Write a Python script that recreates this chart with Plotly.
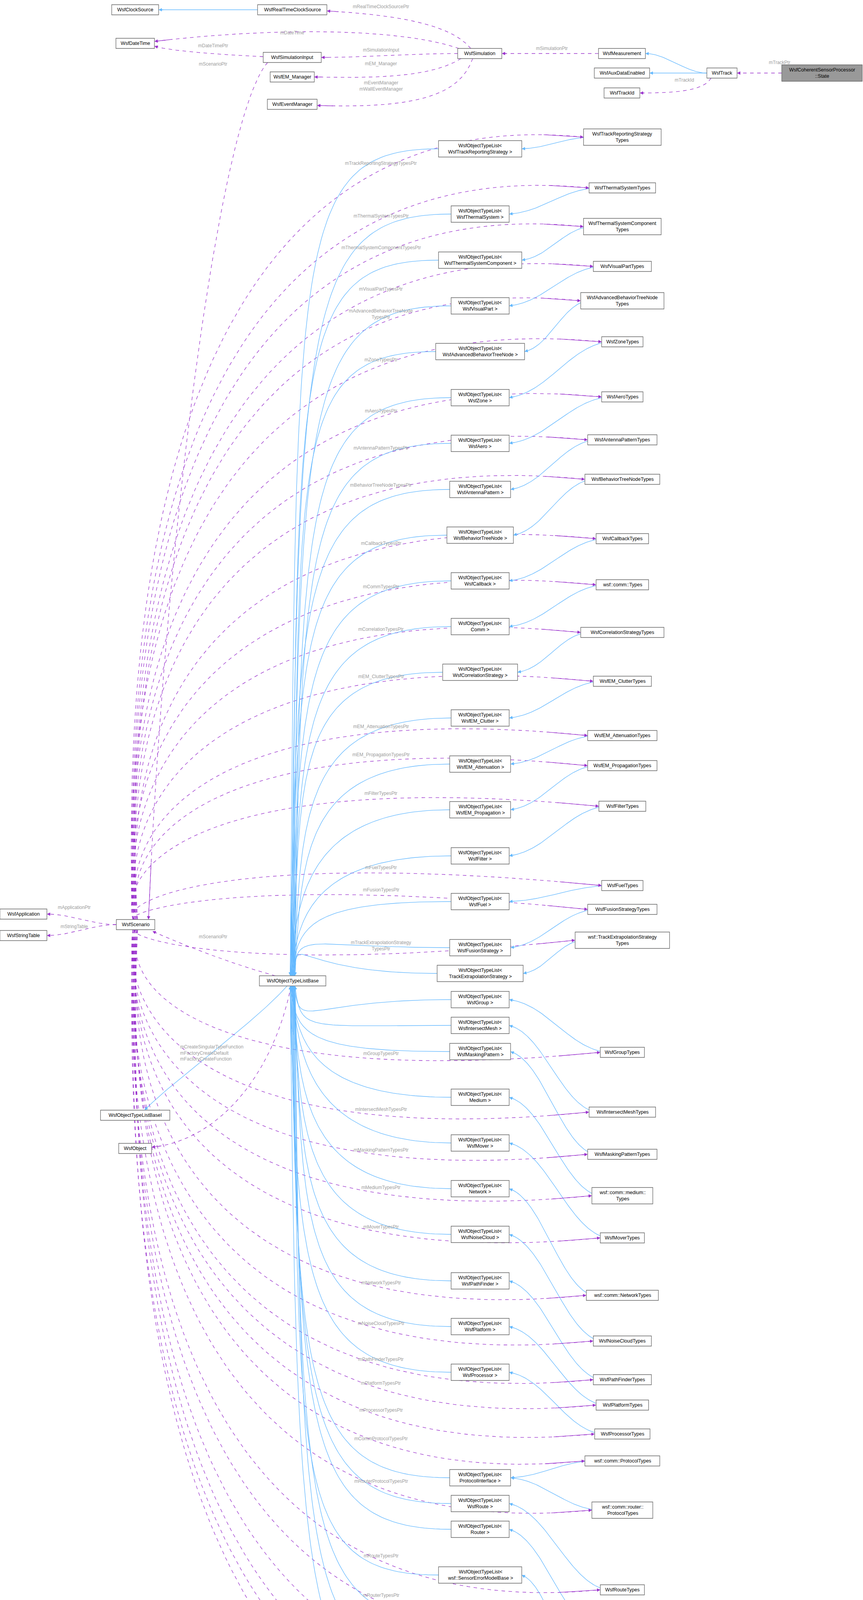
import plotly.graph_objects as go
import numpy as np

W, H = 2209, 4673
PURPLE = "#9a32cd"
BLUE = "#63b8ff"
LABEL = "#9c9c9c"

# ---------------- data ----------------
TYPE_NAMES = ["WsfTrackReportingStrategy\nTypes", "WsfThermalSystemTypes", "WsfThermalSystemComponent\nTypes",
              "WsfVisualPartTypes", "WsfAdvancedBehaviorTreeNode\nTypes", "WsfZoneTypes", "WsfAeroTypes",
              "WsfAntennaPatternTypes", "WsfBehaviorTreeNodeTypes", "WsfCallbackTypes", "wsf::comm::Types",
              "WsfCorrelationStrategyTypes", "WsfEM_ClutterTypes", "WsfEM_AttenuationTypes", "WsfEM_PropagationTypes",
              "WsfFilterTypes", "WsfFuelTypes", "WsfFusionStrategyTypes", "wsf::TrackExtrapolationStrategy\nTypes",
              "WsfGroupTypes", "WsfIntersectMeshTypes", "WsfMaskingPatternTypes", "wsf::comm::medium::\nTypes",
              "WsfMoverTypes", "wsf::comm::NetworkTypes", "WsfNoiseCloudTypes", "WsfPathFinderTypes",
              "WsfPlatformTypes", "WsfProcessorTypes", "wsf::comm::ProtocolTypes", "wsf::comm::router::\nProtocolTypes",
              "WsfRouteTypes", "wsf::comm::router::\nTypes", "WsfSensorErrorModelTypes", "WsfSensorTypes",
              "WsfRadarSignatureTypes", "WsfRouteNetworkTypes"]
PTR_LABELS = ["mTrackReportingStrategyTypesPtr", "mThermalSystemTypesPtr", "mThermalSystemComponentTypesPtr",
              "mVisualPartTypesPtr", "mAdvancedBehaviorTreeNode\nTypesPtr", "mZoneTypesPtr", "mAeroTypesPtr",
              "mAntennaPatternTypesPtr", "mBehaviorTreeNodeTypesPtr", "mCallbackTypesPtr", "mCommTypesPtr",
              "mCorrelationTypesPtr", "mEM_ClutterTypesPtr", "mEM_AttenuationTypesPtr", "mEM_PropagationTypesPtr",
              "mFilterTypesPtr", "mFuelTypesPtr", "mFusionTypesPtr", "mTrackExtrapolationStrategy\nTypesPtr",
              "mGroupTypesPtr", "mIntersectMeshTypesPtr", "mMaskingPatternTypesPtr", "mMediumTypesPtr",
              "mMoverTypesPtr", "mNetworkTypesPtr", "mNoiseCloudTypesPtr", "mPathFinderTypesPtr",
              "mPlatformTypesPtr", "mProcessorTypesPtr", "mCommProtocolTypesPtr", "mRouterProtocolTypesPtr",
              "mRouteTypesPtr", "mRouterTypesPtr", "mSensorErrorModelTypesPtr", "mSensorTypesPtr",
              "mRadarSignatureTypesPtr", "mRouteNetworkTypesPtr"]
OTL_PARAMS = ["WsfTrackReportingStrategy", "WsfThermalSystem", "WsfThermalSystemComponent", "WsfVisualPart",
              "WsfAdvancedBehaviorTreeNode", "WsfZone", "WsfAero", "WsfAntennaPattern", "WsfBehaviorTreeNode",
              "WsfCallback", "Comm", "WsfCorrelationStrategy", "WsfEM_Clutter", "WsfEM_Attenuation",
              "WsfEM_Propagation", "WsfFilter", "WsfFuel", "WsfFusionStrategy", "TrackExtrapolationStrategy",
              "WsfGroup", "WsfIntersectMesh", "WsfMaskingPattern", "Medium", "WsfMover", "Network",
              "WsfNoiseCloud", "WsfPathFinder", "WsfPlatform", "WsfProcessor", "ProtocolInterface", "WsfRoute",
              "Router", "wsf::SensorErrorModelBase", "WsfSensor", "WsfRadarSignature", "WsfRouteNetwork"]
TYPE_TO_OTL = [0, 1, 2, 3, 4, 5, 6, 7, 8, 9, 10, 11, 12, 13, 14, 15, 16, 17, 18, 19, 20, 21, 22, 23, 24,
               25, 26, 27, 28, 29, 29, 30, 31, 32, 33, 34, 35]

NODE_TEXT = {"Coherent": "WsfCoherentSensorProcessor\n::State", "Track": "WsfTrack",
             "Measurement": "WsfMeasurement", "AuxData": "WsfAuxDataEnabled", "TrackId": "WsfTrackId",
             "Simulation": "WsfSimulation", "RTClock": "WsfRealTimeClockSource", "Clock": "WsfClockSource",
             "DateTime": "WsfDateTime", "SimInput": "WsfSimulationInput", "EM": "WsfEM_Manager",
             "Event": "WsfEventManager", "Scenario": "WsfScenario", "App": "WsfApplication",
             "Strings": "WsfStringTable", "Base": "WsfObjectTypeListBase", "BaseI": "WsfObjectTypeListBaseI",
             "Object": "WsfObject"}

# ---------------- layout (positions) ----------------
POS = {"Coherent": (2104, 187), "Track": (1848, 187), "Measurement": (1592, 137), "AuxData": (1592, 187),
       "TrackId": (1592, 238), "Simulation": (1228, 137), "RTClock": (748, 25), "Clock": (346, 25),
       "DateTime": (346, 111), "SimInput": (748, 147), "EM": (748, 197), "Event": (748, 267),
       "Scenario": (347, 2367), "App": (60, 2340), "Strings": (60, 2395), "Base": (749, 2511),
       "BaseI": (346, 2855), "Object": (346, 2940)}
TYPE_Y = [351, 481, 580, 682, 770, 875, 1016, 1126, 1227, 1379, 1497, 1619, 1744, 1883, 1960, 2064, 2267,
          2328, 2407, 2694, 2847, 2955, 3061, 3169, 3316, 3433, 3532, 3597, 3671, 3740, 3866, 4070, 4179,
          4305, 4420, 4479, 4544]
OTL_Y = [381, 548, 666, 783, 900, 1018, 1135, 1253, 1370, 1487, 1604, 1721, 1838, 1956, 2073, 2191, 2308,
         2426, 2492, 2559, 2625, 2692, 2809, 2926, 3043, 3160, 3279, 3396, 3513, 3783, 3849, 3915, 4032,
         4150, 4266, 4384]
TYPE_X, OTL_X = 1593, 1229
CH = 7.15


def size(text):
    lines = text.split("\n")
    return max(len(l) for l in lines) * CH + 20, 16 * len(lines) + 10


nodes = {}
for k, t in NODE_TEXT.items():
    nodes[k] = (t, POS[k][0], POS[k][1])
for i, t in enumerate(TYPE_NAMES):
    nodes[f"T{i}"] = (t, TYPE_X, TYPE_Y[i])
for i, p in enumerate(OTL_PARAMS):
    nodes[f"O{i}"] = (f"WsfObjectTypeList<\n{p} >", OTL_X, OTL_Y[i])


def box(k):
    t, x, y = nodes[k]
    w, h = size(t)
    return x - w / 2, x + w / 2, y - h / 2, y + h / 2


def bez(p0, p1, p2, p3, n=60):
    t = np.linspace(0, 1, n)[:, None]
    p0, p1, p2, p3 = map(np.array, (p0, p1, p2, p3))
    pts = (1 - t) ** 3 * p0 + 3 * (1 - t) ** 2 * t * p1 + 3 * (1 - t) * t ** 2 * p2 + t ** 3 * p3
    return pts[:, 0], pts[:, 1]


fig = go.Figure()
anns = []


def draw(xs, ys, kind, label=None, lxy=None, lalign="center"):
    col = PURPLE if kind == "use" else BLUE
    fig.add_trace(go.Scatter(x=xs, y=ys, mode="lines", hoverinfo="skip", showlegend=False,
                             line=dict(color=col, width=1.3, dash="dash" if kind == "use" else "solid")))
    anns.append(dict(x=xs[-1], y=ys[-1], ax=xs[-4], ay=ys[-4], xref="x", yref="y", axref="x", ayref="y",
                     text="", showarrow=True, arrowhead=2, arrowsize=1.3, arrowwidth=1.3, arrowcolor=col,
                     standoff=0))
    if label:
        anns.append(dict(x=lxy[0], y=lxy[1], xref="x", yref="y", text=label.replace("\n", "<br>"),
                         showarrow=False, font=dict(size=12, color=LABEL, family="Liberation Sans"),
                         align=lalign, xanchor=lalign if lalign != "center" else "center"))


def straight(a, b, kind, label="", lxy=None, curve=0.0):
    ax0, ax1, ay0, ay1 = box(a)
    bx0, bx1, by0, by1 = box(b)
    _, axc, ayc = nodes[a]
    _, bxc, byc = nodes[b]
    if bxc < axc - 20:
        p0, p3 = (ax0, ayc), (bx1, byc)
    else:
        p0, p3 = (ax1, ayc), (bx0, byc)
    dx = p3[0] - p0[0]
    xs, ys = bez(p0, (p0[0] + dx * 0.35, p0[1] + curve), (p0[0] + dx * 0.65, p3[1] + curve), p3)
    draw(xs, ys, kind, label, lxy)


# top / misc edges
straight("Coherent", "Track", "use", "mTrackPtr", (1995, 160))
straight("Track", "Measurement", "inh")
straight("Track", "AuxData", "inh")
xs, ys = bez((1820, 200), (1800, 235), (1720, 238), (box("TrackId")[1], 238))
draw(xs, ys, "use", "mTrackId", (1752, 205))
straight("Measurement", "Simulation", "use", "mSimulationPtr", (1412, 124))
xs, ys = bez((1205, 124), (1160, 70), (1050, 40), (box("RTClock")[1], 28))
draw(xs, ys, "use", "mRealTimeClockSourcePtr", (975, 17))
xs, ys = bez((1175, 124), (1000, 65), (650, 75), (box("DateTime")[1], 106))
draw(xs, ys, "use", "mDateTime", (748, 84))
straight("Simulation", "SimInput", "use", "mSimulationInput", (975, 128))
xs, ys = bez((1180, 150), (1100, 200), (950, 200), (box("EM")[1], 197))
draw(xs, ys, "use", "mEM_Manager", (975, 163))
xs, ys = bez((1210, 150), (1180, 230), (1100, 280), (box("Event")[1], 270))
draw(xs, ys, "use", "mEventManager\nmWallEventManager", (975, 220))
straight("RTClock", "Clock", "inh")
xs, ys = bez((box("SimInput")[0], 145), (560, 140), (430, 130), (box("DateTime")[1], 118))
draw(xs, ys, "use", "mDateTimePtr", (545, 117))
xs, ys = bez((685, 160), (560, 300), (420, 1400), (380, box("Scenario")[2]))
draw(xs, ys, "use", "mScenarioPtr", (545, 164))
straight("Scenario", "App", "use", "mApplicationPtr", (190, 2323))
straight("Scenario", "Strings", "use", "mStringTable", (190, 2372))
xs, ys = bez((705, box("Base")[2]), (600, 2470), (470, 2420), (box("Scenario")[1] - 6, box("Scenario")[3] + 4))
draw(xs, ys, "use", "mScenarioPtr", (545, 2398))
xs, ys = bez((735, box("Base")[3]), (650, 2620), (450, 2760), (370, box("BaseI")[2]))
draw(xs, ys, "inh")
xs, ys = bez((745, box("Base")[3]), (700, 2750), (560, 2920), (box("Object")[1], 2937))
draw(xs, ys, "use", "mCreateSingularTypeFunction\nmFactoryCreateDefault\nmFactoryCreateFunction",
     (459, 2695), lalign="left")

# scenario -> types (pointer members)
sx, _, sy0, sy1 = box("Scenario")
for i in range(len(TYPE_NAMES)):
    tx0, _, _, _ = box(f"T{i}")
    ty = TYPE_Y[i]
    if ty < 2367:
        p0 = (340 + (i % 5) * 3, sy0)
        p1 = (300, ty + 0.45 * (2367 - ty))
        p2 = (560, ty - 95)
    else:
        p0 = (340 + (i % 5) * 3, sy1)
        p1 = (305, ty - 0.45 * (ty - 2367))
        p2 = (560, ty + 95)
    xs, ys = bez(p0, p1, p2, (tx0, ty), 80)
    j = int(np.argmin(np.abs(xs - 975)))
    nl = PTR_LABELS[i].count("\n")
    draw(xs, ys, "use", PTR_LABELS[i], (975, ys[j] - 14 - nl * 8))

# types -> OTL (inheritance)
for i, oi in enumerate(TYPE_TO_OTL):
    tx0, _, _, _ = box(f"T{i}")
    _, ox1, _, _ = box(f"O{oi}")
    p0, p3 = (tx0 + 15, TYPE_Y[i]), (ox1, OTL_Y[oi])
    d = p0[0] - p3[0]
    xs, ys = bez(p0, (p0[0] - d * 0.4, p0[1] + (p3[1] - p0[1]) * 0.1),
                 (p3[0] + d * 0.4, p3[1] - (p3[1] - p0[1]) * 0.1), p3)
    draw(xs, ys, "inh")

# OTL -> base (inheritance)
bx0, bx1, by0, by1 = box("Base")
for i in range(len(OTL_PARAMS)):
    ox0, _, _, _ = box(f"O{i}")
    oy = OTL_Y[i]
    off = (i % 7 - 3) * 2
    if oy < 2511:
        p3 = (749 + off, by0)
        p2 = (765 + off, min(oy + 250, by0 - 120))
    else:
        p3 = (749 + off, by1)
        p2 = (765 + off, max(oy - 250, by1 + 120))
    xs, ys = bez((ox0, oy), (ox0 - 380, oy), p2, p3, 80)
    draw(xs, ys, "inh")

# node boxes
shapes = []
for k, (t, x, y) in nodes.items():
    x0, x1, y0, y1 = box(k)
    fill = "#999999" if k == "Coherent" else "white"
    shapes.append(dict(type="rect", x0=x0, x1=x1, y0=y0, y1=y1, xref="x", yref="y",
                       line=dict(color="#666666", width=1.3), fillcolor=fill, layer="above"))
    anns.append(dict(x=x, y=y, xref="x", yref="y", text=t.replace("\n", "<br>"), showarrow=False,
                     font=dict(size=12.5, color="black", family="Liberation Sans"), align="center"))

fig.update_layout(width=W, height=H, margin=dict(l=0, r=0, t=0, b=0), plot_bgcolor="white",
                  paper_bgcolor="white", shapes=shapes, annotations=anns, showlegend=False,
                  xaxis=dict(range=[0, W], visible=False, fixedrange=True),
                  yaxis=dict(range=[H, 0], visible=False, fixedrange=True))
fig.write_html("out.html", config={"displayModeBar": False})

with open("out.html", encoding="utf-8") as f:
    html = f.read()
html = html.replace("<head>", "<head><style>html,body{margin:0;padding:0;overflow:hidden;}</style>", 1)
with open("out.html", "w", encoding="utf-8") as f:
    f.write(html)
